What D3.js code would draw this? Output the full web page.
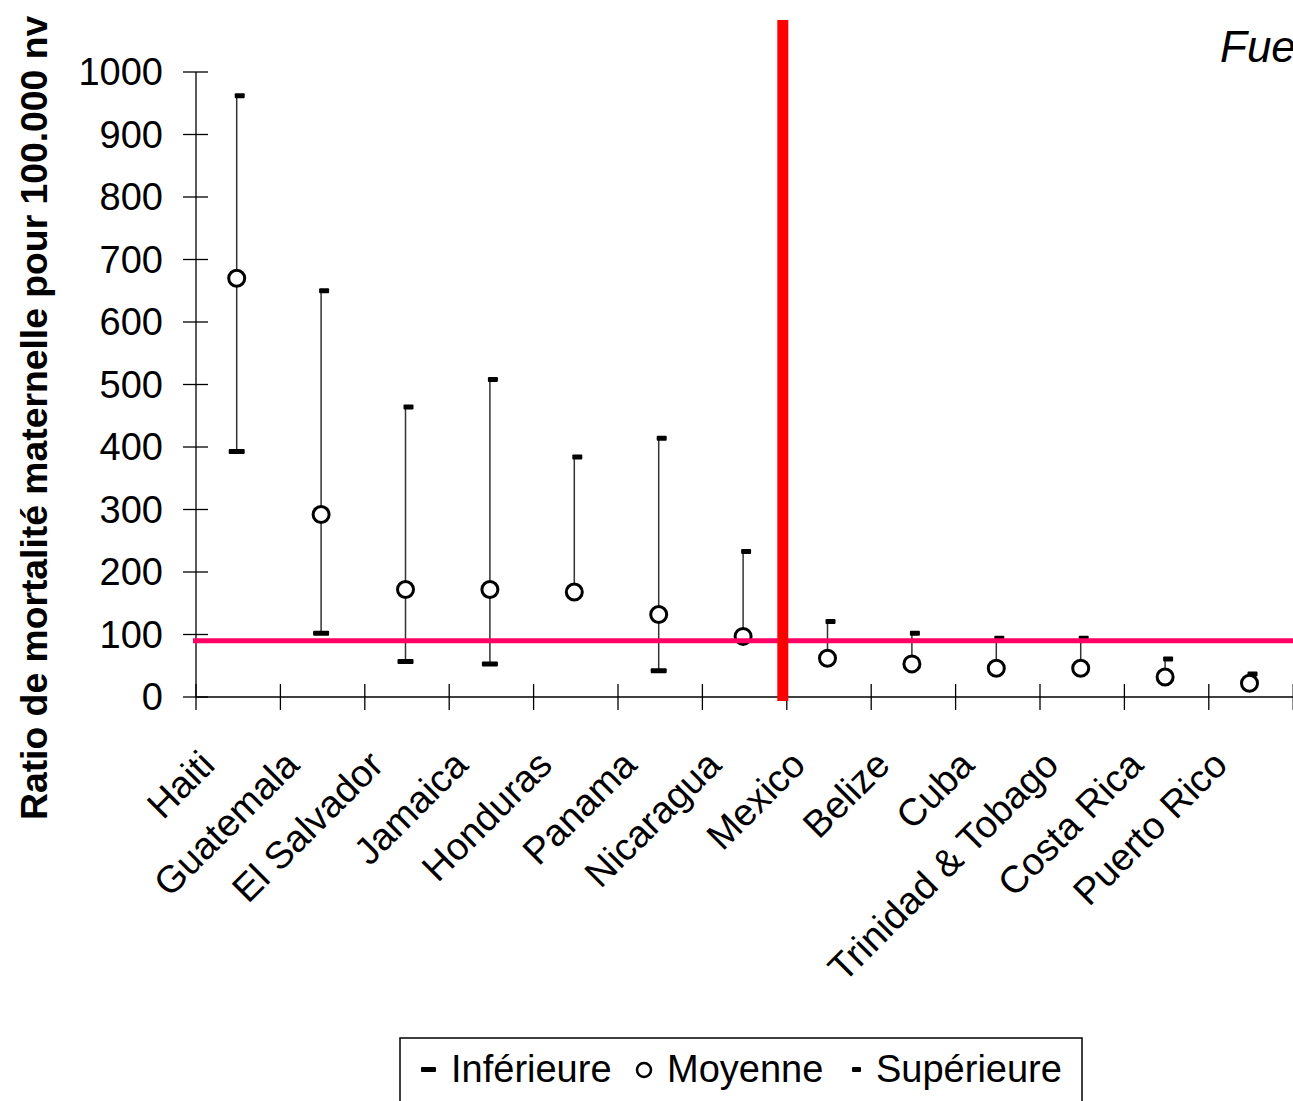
<!DOCTYPE html>
<html>
<head>
<meta charset="utf-8">
<script src="https://cdn.jsdelivr.net/npm/d3@7"></script>
<style>
  body { margin: 0; background: #fff; }
  text { font-family: "Liberation Sans", Arial, sans-serif; }
</style>
</head>
<body>
<svg id="chart" width="1293" height="1101"></svg>
<script>
// countries, ordered by mean ratio
const countries = ['Haiti', 'Guatemala', 'El Salvador', 'Jamaica', 'Honduras', 'Panama',
  'Nicaragua', 'Mexico', 'Belize', 'Cuba', 'Trinidad & Tobago', 'Costa Rica', 'Puerto Rico']
const lower = [393, 102, 57, 53, null, 42, null, null, null, null, null, null, null]
const mean = [670, 292, 172, 172, 168, 132, 97, 62, 53, 46, 46, 32, 22]
const upper = [962, 650, 464, 508, 384, 414, 233, 121, 102, 94, 94, 61, 37]
const yTicks = [0, 100, 200, 300, 400, 500, 600, 700, 800, 900, 1000]
const refValue = 90           // horizontal reference line
const splitBefore = 'Mexico'  // vertical separator

const svg = d3.select('#chart')

const x = d3.scaleBand().domain(countries).range([196, 196 + 84.4 * countries.length])
const y = d3.scaleLinear().domain([0, 1000]).range([697, 72])
const cx = (d) => x(d) + x.bandwidth() / 2 - 1.5

const data = countries.map((c, i) => ({ name: c, lo: lower[i], mean: mean[i], hi: upper[i] }))

// axes
const yAxis = svg.append('g')
yAxis.append('line')
  .attr('x1', 196).attr('x2', 196)
  .attr('y1', y(1000)).attr('y2', y(0))
  .attr('stroke', '#000').attr('stroke-width', 1.3)
yAxis.selectAll('.tick').data(yTicks).enter().append('line')
  .attr('x1', 183).attr('x2', 208)
  .attr('y1', (d) => y(d)).attr('y2', (d) => y(d))
  .attr('stroke', '#000').attr('stroke-width', 1.3)
yAxis.selectAll('.lbl').data(yTicks).enter().append('text')
  .attr('x', 163).attr('y', (d) => y(d) + 13)
  .attr('text-anchor', 'end')
  .attr('font-size', 38)
  .text((d) => d)

const xAxis = svg.append('g')
xAxis.append('line')
  .attr('x1', 196).attr('x2', 1293)
  .attr('y1', y(0)).attr('y2', y(0))
  .attr('stroke', '#000').attr('stroke-width', 1.3)
xAxis.selectAll('.tick').data(countries.concat(['end'])).enter().append('line')
  .attr('x1', (d, i) => 196 + i * x.step()).attr('x2', (d, i) => 196 + i * x.step())
  .attr('y1', 684).attr('y2', 710)
  .attr('stroke', '#000').attr('stroke-width', 1.3)
xAxis.selectAll('.lbl').data(countries).enter().append('text')
  .attr('transform', (d) => `translate(${cx(d) - 20},${767}) rotate(-45)`)
  .attr('text-anchor', 'end')
  .attr('font-size', 38)
  .text((d) => d)

// y title
svg.append('text')
  .attr('transform', 'translate(47,820) rotate(-90)')
  .attr('font-size', 37.3)
  .attr('font-weight', 'bold')
  .text('Ratio de mortalité maternelle pour 100.000 nv')

// source (clipped on the right, as in the original)
svg.append('text')
  .attr('x', 1220).attr('y', 62)
  .attr('font-size', 44)
  .attr('font-style', 'italic')
  .text('Fuente')

// high-low lines
svg.append('g').selectAll('line').data(data).enter().append('line')
  .attr('x1', (d) => cx(d.name)).attr('x2', (d) => cx(d.name))
  .attr('y1', (d) => y(d.lo != null ? d.lo : d.mean))
  .attr('y2', (d) => y(d.hi))
  .attr('stroke', '#333').attr('stroke-width', 1.5)

// lower markers
svg.append('g').selectAll('rect').data(data.filter((d) => d.lo != null)).enter().append('rect')
  .attr('x', (d) => cx(d.name) - 8).attr('y', (d) => y(d.lo) - 2.5)
  .attr('width', 16).attr('height', 5).attr('rx', 1)
  .attr('fill', '#000')

// upper markers
svg.append('g').selectAll('rect').data(data).enter().append('rect')
  .attr('x', (d) => cx(d.name) - 2).attr('y', (d) => y(d.hi) - 2.5)
  .attr('width', 10).attr('height', 5).attr('rx', 1)
  .attr('fill', '#000')

// mean markers
svg.append('g').selectAll('circle').data(data).enter().append('circle')
  .attr('cx', (d) => cx(d.name)).attr('cy', (d) => y(d.mean))
  .attr('r', 8)
  .attr('fill', '#fff').attr('stroke', '#000').attr('stroke-width', 3)

// reference lines
svg.append('line')
  .attr('x1', 193).attr('x2', 1293)
  .attr('y1', y(refValue)).attr('y2', y(refValue))
  .attr('stroke', '#ff0066').attr('stroke-width', 5)

const sx = x(splitBefore) - 4
svg.append('line')
  .attr('x1', sx).attr('x2', sx)
  .attr('y1', 20).attr('y2', 701)
  .attr('stroke', '#ff0000').attr('stroke-width', 11)

// legend
const lg = svg.append('g')
lg.append('rect')
  .attr('x', 400).attr('y', 1038).attr('width', 682).attr('height', 80)
  .attr('fill', 'none').attr('stroke', '#000').attr('stroke-width', 1.5)
lg.append('rect').attr('x', 421).attr('y', 1067).attr('width', 15).attr('height', 5).attr('rx', 1).attr('fill', '#000')
lg.append('text').attr('x', 451).attr('y', 1082).attr('font-size', 38).text('Inférieure')
lg.append('circle').attr('cx', 644).attr('cy', 1070).attr('r', 7).attr('fill', '#fff').attr('stroke', '#000').attr('stroke-width', 2.5)
lg.append('text').attr('x', 667).attr('y', 1082).attr('font-size', 38).text('Moyenne')
lg.append('rect').attr('x', 852).attr('y', 1067).attr('width', 9).attr('height', 5).attr('rx', 1).attr('fill', '#000')
lg.append('text').attr('x', 876).attr('y', 1082).attr('font-size', 38).text('Supérieure')
</script>
</body>
</html>
